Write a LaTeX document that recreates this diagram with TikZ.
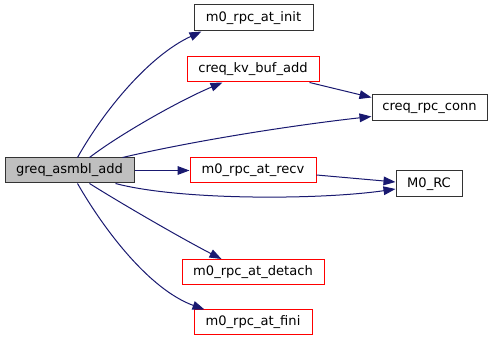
\documentclass[tikz,border=0pt]{standalone}
\usepackage{fontspec}
\setmainfont{DejaVu Sans}
\usetikzlibrary{arrows.meta,calc}
\definecolor{edgeblue}{RGB}{25,25,112}
\definecolor{boxgray}{RGB}{191,191,191}
\definecolor{boxred}{RGB}{255,0,0}
\begin{document}
\begin{tikzpicture}[x=0.75pt,y=-0.75pt,
  fn/.style={draw=black!80,line width=0.75pt,fill=white,inner sep=0pt,
    minimum height=25*0.75pt,font=\fontsize{9.8pt}{11pt}\selectfont,anchor=center},
  redfn/.style={fn,draw=boxred},
  callee/.style={draw=edgeblue,line width=0.75pt,
    -{Triangle[length=9pt,width=6.5pt]}}]
\useasboundingbox (0,0) rectangle (492,341);
\node[fn,fill=boxgray,minimum width=129*0.75pt] (greq) at (69.5,170.5) {greq\_asmbl\_add};
\node[fn,minimum width=119*0.75pt,minimum height=26*0.75pt] (init) at (253.5,18) {m0\_rpc\_at\_init};
\node[redfn,minimum width=132*0.75pt] (kv) at (253,69.5) {creq\_kv\_buf\_add};
\node[fn,minimum width=115*0.75pt,minimum height=26*0.75pt] (conn) at (429.5,108) {creq\_rpc\_conn};
\node[redfn,minimum width=126*0.75pt] (recv) at (253,170.5) {m0\_rpc\_at\_recv};
\node[fn,minimum width=66*0.75pt,minimum height=26*0.75pt] (rc) at (429,184) {M0\_RC};
\node[redfn,minimum width=142*0.75pt] (detach) at (253,272) {m0\_rpc\_at\_detach};
\node[redfn,minimum width=118*0.75pt] (fini) at (253,322.5) {m0\_rpc\_at\_fini};

\draw[callee] ($(greq.north west)+(73,0)$) .. controls +(27,-48) and +(-52,24) .. ($(init.south west)+(8,0)$);
\draw[callee] ($(greq.north west)+(85,0)$) .. controls +(30,-23) and +(-43,18) .. ($(kv.south west)+(36,0)$);
\draw[callee] ($(greq.north west)+(118,0)$) .. controls +(77,-18) and +(-72,8) .. ($(conn.south west)+(0,-5)$);
\draw[callee] (greq.east) -- (recv.west);
\draw[callee] ($(greq.south west)+(111,0)$) .. controls +(64,17) and +(-76,11) .. ($(rc.west)+(0,5)$);
\draw[callee] ($(greq.south west)+(85,0)$) .. controls +(35,22) and +(-37,-19) .. ($(detach.north west)+(40,0)$);
\draw[callee] ($(greq.south west)+(73,0)$) .. controls +(27,47) and +(-55,-20) .. ($(fini.north west)+(11,0)$);
\draw[callee] ($(kv.south west)+(123,0)$) -- ($(conn.north west)+(0,3)$);
\draw[callee] ($(recv.east)+(0,4.5)$) -- ($(rc.west)+(0,-2)$);
\end{tikzpicture}
\end{document}
